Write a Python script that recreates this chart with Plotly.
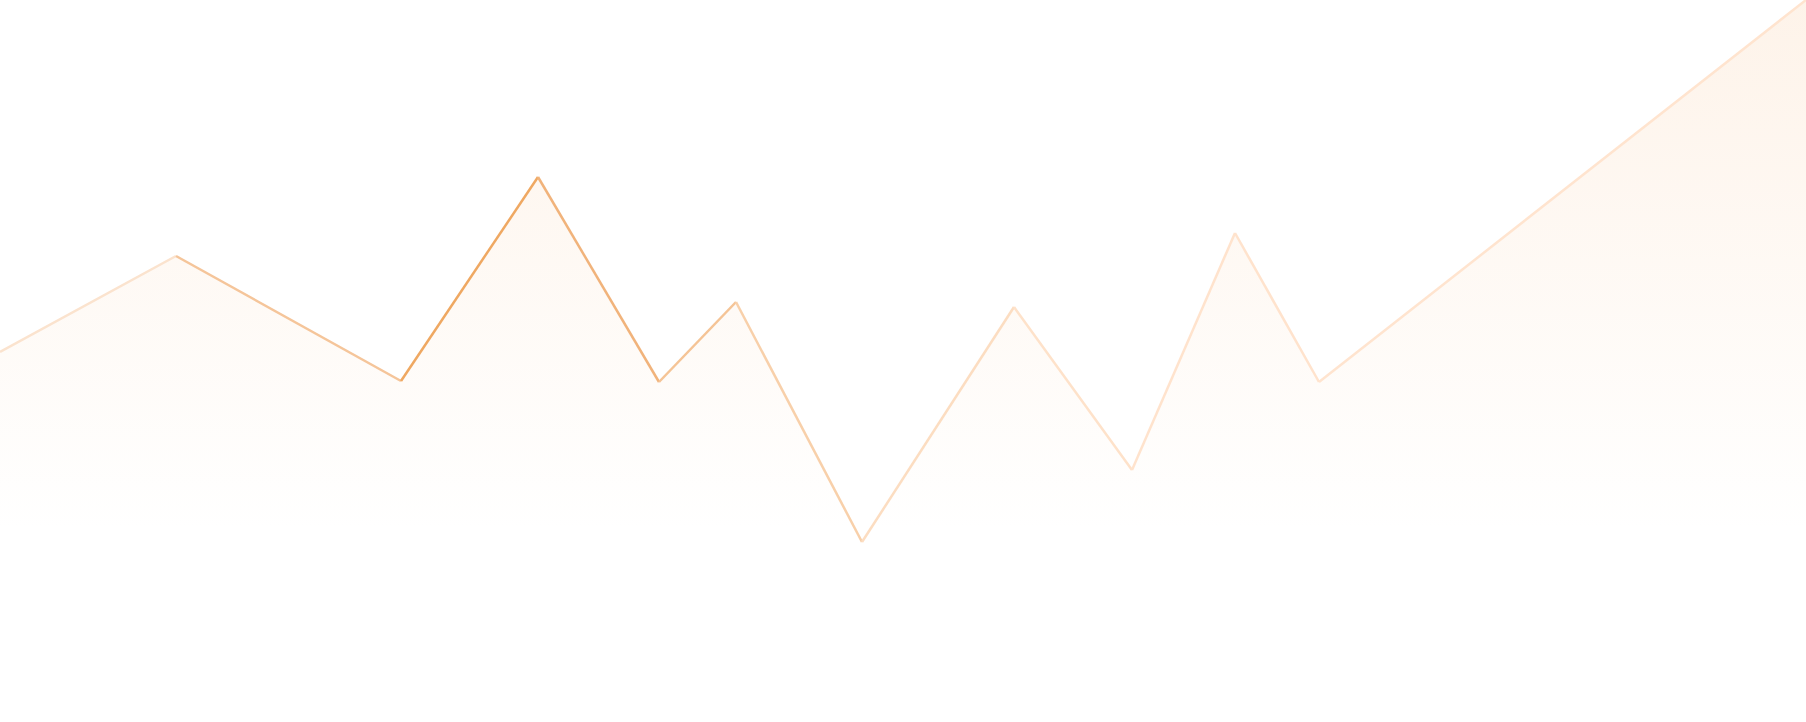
import plotly.graph_objects as go

# points (x along the page, value above the baseline)
x_vals = [0, 176, 401, 538, 659, 736, 862, 1014, 1132, 1235, 1319, 1806]
y_vals = [181, 277, 152, 356, 151, 231, -9, 226, 63, 300, 151, 533]

# stroke colour for each segment (the line fades out away from the first peak)
seg_colors = ["#FBE3CE", "#F5C59A", "#EFA862", "#F1B37B", "#F5C496", "#F8D0AA",
              "#FCDDC1", "#FEE2CA", "#FFE3CD", "#FFE3CD", "#FFE4CF"]

fig = go.Figure()

# gradient area under the line
fig.add_trace(go.Scatter(
    x=x_vals, y=y_vals, mode="lines", fill="tozeroy",
    line=dict(width=0, color="rgba(0,0,0,0)"),
    fillgradient=dict(
        type="vertical", start=0, stop=max(y_vals),
        colorscale=[[0, "rgba(245,170,100,0)"], [1, "rgba(245,170,100,0.14)"]],
    ),
    hoverinfo="skip", showlegend=False,
))

# the line itself, one trace per segment so the colour can change along it
for i in range(len(x_vals) - 1):
    fig.add_trace(go.Scatter(
        x=x_vals[i:i + 2], y=y_vals[i:i + 2], mode="lines",
        line=dict(color=seg_colors[i], width=2.5),
        hoverinfo="skip", showlegend=False,
    ))

fig.update_layout(
    width=1806, height=722,
    margin=dict(l=0, r=0, t=0, b=0),
    paper_bgcolor="white", plot_bgcolor="white",
    xaxis=dict(range=[0, 1806], visible=False, fixedrange=True),
    yaxis=dict(range=[-189, 533], visible=False, fixedrange=True),
)

# drop the browser's default page margin so the chart sits flush with the window
fig.write_html(
    "out.html",
    config={"displayModeBar": False},
    post_script="document.body.style.margin='0';document.body.style.overflow='hidden';",
)
